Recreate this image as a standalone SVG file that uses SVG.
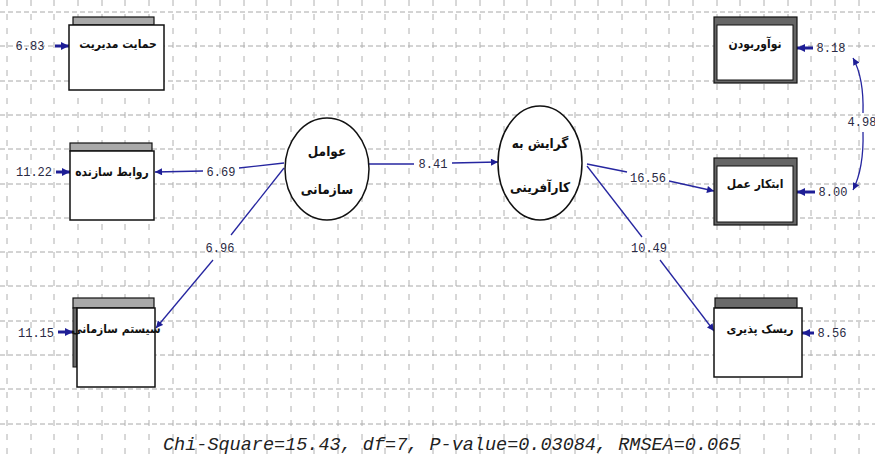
<svg xmlns="http://www.w3.org/2000/svg" width="875" height="459" viewBox="0 0 875 459">
<style>
.grid-h{stroke:#a8a8a8;stroke-width:1;stroke-dasharray:5 3;fill:none}
.grid-v{stroke:#b0b0b0;stroke-width:1;stroke-dasharray:6 8;fill:none}
.box{fill:#fff;stroke:#111;stroke-width:1.5}
.tab{fill:#a9a9a9;stroke:#111;stroke-width:1.2}
.tabd{fill:#6a6a6a;stroke:#111;stroke-width:1.2}
.ell{fill:#fff;stroke:#111;stroke-width:1.5}
.fa{font-family:"DejaVu Sans Condensed","DejaVu Sans",sans-serif;font-weight:bold;font-size:12px;fill:#111;text-anchor:middle}
.fc{font-size:13.5px}
.num{font-family:"Liberation Mono",monospace;font-size:12px;fill:#2a2a44;text-anchor:middle}
.ln{stroke:#2626a0;stroke-width:1.3;fill:none}
.err{stroke:#1e1e96;stroke-width:3;fill:none}
.foot{font-family:"Liberation Mono",monospace;font-style:italic;font-size:18.5px;fill:#222}
</style>
<defs>
<marker id="ah" viewBox="0 0 10 10" refX="10" refY="5" markerWidth="9" markerHeight="7" markerUnits="userSpaceOnUse" orient="auto">
<path d="M0,0 L10,5 L0,10 z" fill="#1e1e96"/>
</marker>
<marker id="ahe" viewBox="0 0 10 10" refX="10" refY="5" markerWidth="8" markerHeight="8" markerUnits="userSpaceOnUse" orient="auto">
<path d="M0,0 L10,5 L0,10 z" fill="#1e1e96"/>
</marker>
</defs>
<rect width="875" height="459" fill="#fff"/>
<g id="grid">
<path class="grid-h" d="M0 12H875M0 46H875M0 81H875M0 115H875M0 149H875M0 184H875M0 218H875M0 252H875M0 286H875M0 321H875M0 355H875M0 389H875M0 424H875"/>
<path class="grid-v" d="M7 0V459M31 0V459M54 0V459M78 0V459M102 0V459M125 0V459M149 0V459M173 0V459M196 0V459M220 0V459M244 0V459M267 0V459M291 0V459M314 0V459M338 0V459M362 0V459M385 0V459M409 0V459M433 0V459M456 0V459M480 0V459M504 0V459M527 0V459M551 0V459M575 0V459M598 0V459M622 0V459M646 0V459M669 0V459M693 0V459M717 0V459M740 0V459M764 0V459M788 0V459M811 0V459M835 0V459M859 0V459"/>
</g>
<g id="connectors">
<path class="ln" d="M284,163 L239,168"/>
<path class="ln" d="M203,171 L155,172" marker-end="url(#ah)"/>
<path class="ln" d="M284,168 L231,235"/>
<path class="ln" d="M213,260 L156,328" marker-end="url(#ah)"/>
<path class="ln" d="M369,164 L414,164"/>
<path class="ln" d="M452,163 L498,162" marker-end="url(#ah)"/>
<path class="ln" d="M587,164 L627,172"/>
<path class="ln" d="M669,181 L714,191" marker-end="url(#ah)"/>
<path class="ln" d="M587,166 L642,237"/>
<path class="ln" d="M660,260 L714,331" marker-end="url(#ah)"/>
<path class="ln" d="M863,113 Q864,78 853,58" marker-end="url(#ah)"/>
<path class="ln" d="M863,132 Q864,168 853,190" marker-end="url(#ah)"/>
<path class="err" d="M55,46 L69,46" marker-end="url(#ahe)"/>
<path class="err" d="M56,172 L70,172" marker-end="url(#ahe)"/>
<path class="err" d="M58,332 L73,332" marker-end="url(#ahe)"/>
<path class="err" d="M813,48 L797,48" marker-end="url(#ahe)"/>
<path class="err" d="M815,192 L797,192" marker-end="url(#ahe)"/>
<path class="err" d="M814,333 L802,333" marker-end="url(#ahe)"/>
<text class="num" x="221" y="176">6.69</text>
<text class="num" x="220" y="252">6.96</text>
<text class="num" x="433" y="168">8.41</text>
<text class="num" x="648" y="182">16.56</text>
<text class="num" x="649" y="252">10.49</text>
<text class="num" x="862" y="126">4.98</text>
<text class="num" x="30" y="50">6.83</text>
<text class="num" x="34" y="176">11.22</text>
<text class="num" x="36" y="337">11.15</text>
<text class="num" x="831" y="52">8.18</text>
<text class="num" x="833" y="196">8.00</text>
<text class="num" x="832" y="337">8.56</text>
</g>
<g id="node-hemayat">
<rect class="tab" x="73" y="17" width="81" height="8"/>
<rect class="box" x="69" y="25" width="95" height="65"/>
<text class="fa" x="118" y="48">حمایت مدیریت</text>
</g>
<g id="node-ravabet">
<rect class="tab" x="70" y="143" width="82" height="8"/>
<rect class="box" x="70" y="151" width="84" height="69"/>
<text class="fa" x="112" y="176">روابط سازنده</text>
</g>
<g id="node-system">
<rect class="tab" x="73" y="298" width="81" height="10"/>
<rect x="73" y="308" width="4" height="59" fill="#6a6a6a" stroke="#111" stroke-width="1"/>
<rect class="box" x="77" y="308" width="78" height="79"/>
<text class="fa" x="116" y="333">سیستم سازمانی</text>
</g>
<g id="node-avamel">
<ellipse class="ell" cx="327" cy="169" rx="42" ry="51"/>
<text class="fa fc" x="327" y="156">عوامل</text>
<text class="fa fc" x="327" y="194">سازمانی</text>
</g>
<g id="node-gerayesh">
<ellipse class="ell" cx="540" cy="163" rx="42" ry="57"/>
<text class="fa fc" x="540" y="148">گرایش به</text>
<text class="fa fc" x="540" y="192">کارآفرینی</text>
</g>
<g id="node-noavar">
<rect x="714" y="17" width="83" height="66" fill="#666" stroke="#111" stroke-width="1.2"/>
<rect class="box" x="717" y="25" width="76" height="55" style="stroke-width:1"/>
<text class="fa" x="755" y="48">نوآوربودن</text>
</g>
<g id="node-ebtekar">
<rect x="714" y="158" width="83" height="67" fill="#666" stroke="#111" stroke-width="1.2"/>
<rect class="box" x="717" y="166" width="76" height="56" style="stroke-width:1"/>
<text class="fa" x="755" y="188">ابتکار عمل</text>
</g>
<g id="node-risk">
<rect class="tabd" x="715" y="298" width="82" height="10"/>
<rect class="box" x="714" y="308" width="88" height="69"/>
<text class="fa" x="760" y="333">ریسک پذیری</text>
</g>
<text class="foot" x="163" y="450">Chi-Square=15.43, df=7, P-value=0.03084, RMSEA=0.065</text>
</svg>
